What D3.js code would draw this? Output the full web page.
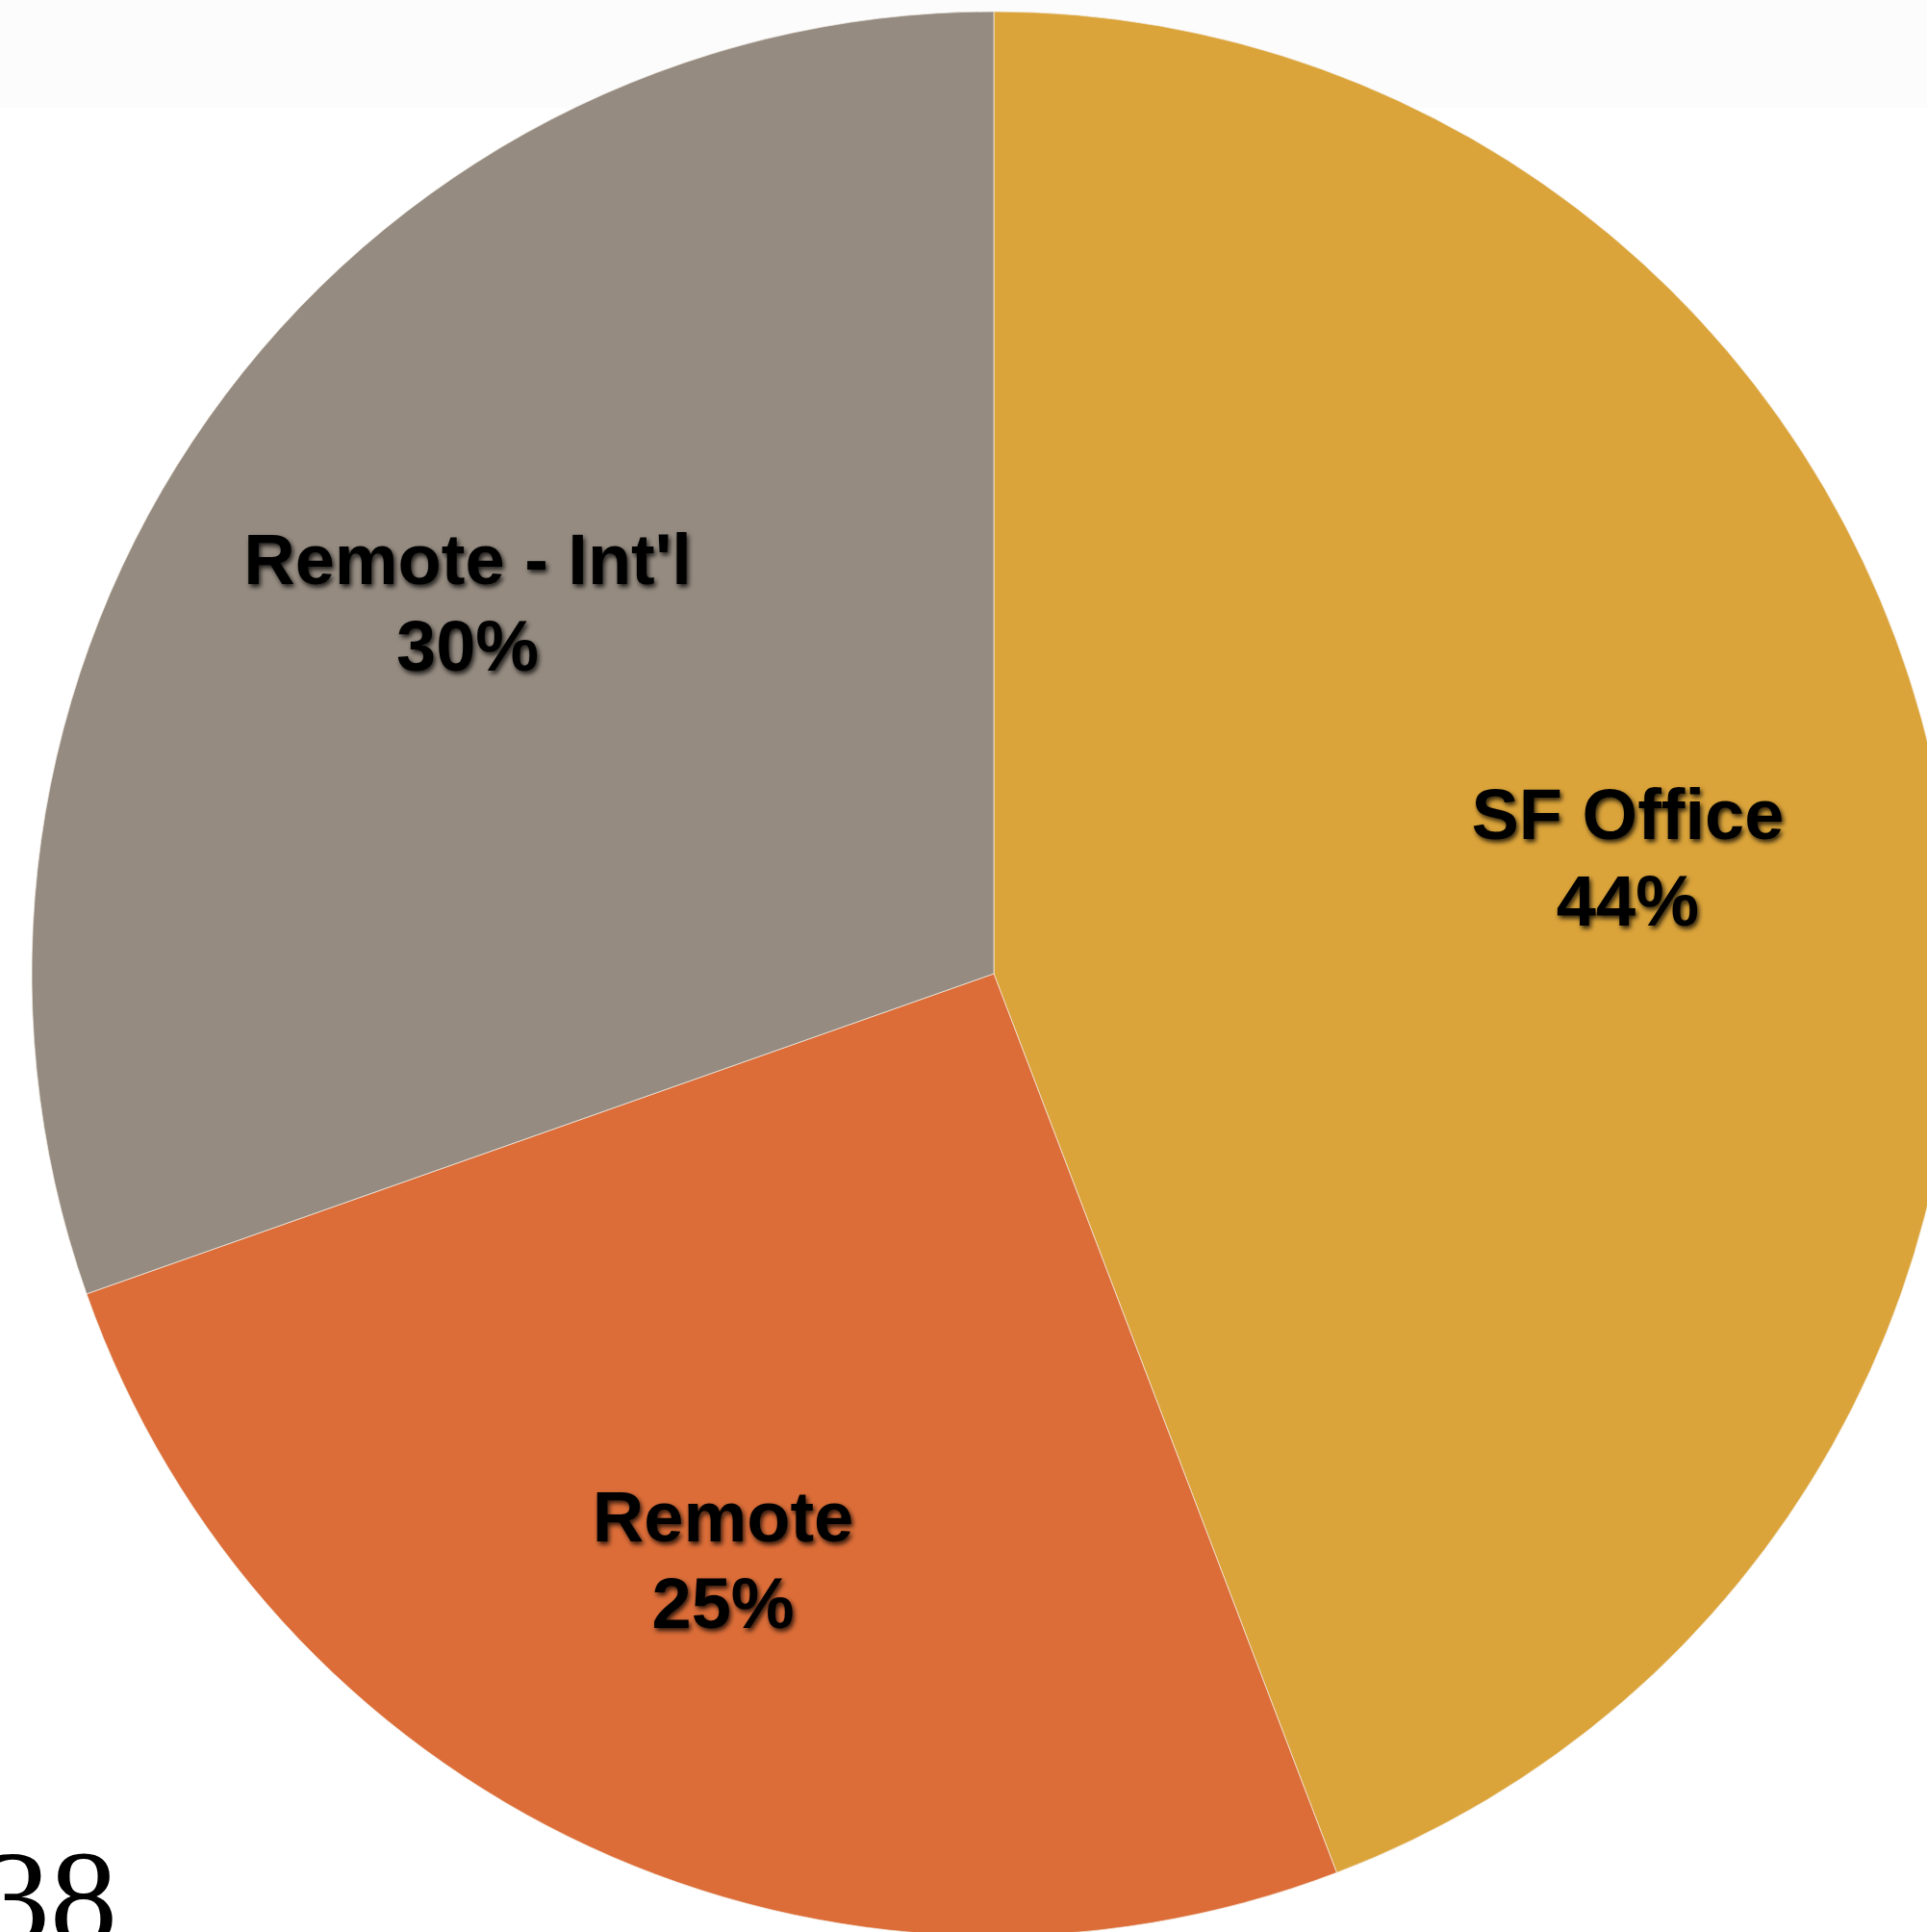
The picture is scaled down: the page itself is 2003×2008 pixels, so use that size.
<!DOCTYPE html>
<html>
<head>
<meta charset="utf-8">
<script src="https://cdn.jsdelivr.net/npm/d3@7"></script>
<style>
  html, body { margin: 0; padding: 0; background: #ffffff; overflow: hidden; }
  .slice-label { font-family: "Liberation Sans", Arial, Helvetica, sans-serif; font-weight: bold; font-size: 74px; fill: #000; }
  .page-number { font-family: "Liberation Serif", "Times New Roman", serif; font-size: 140px; fill: #000; }
</style>
</head>
<body>
<div id="chart"></div>
<script>
var categories = ["SF Office", "Remote", "Remote - Int'l"];
var values = [44.2, 25.4, 30.4];
var colors = ["#dba43a", "#dc6d38", "#958b81"];
var pageNumber = "38";

var width = 2003,
  height = 2008;
var radius = 1000;
var cx = 1033,
  cy = 1012;

var data = categories.map(function (c, i) {
  return { name: c, value: values[i], color: colors[i] };
});
var total = d3.sum(values);

var svg = d3.select("#chart").append("svg").attr("width", width).attr("height", height);

// faint paper texture band along the top
svg.append("rect").attr("x", 0).attr("y", 0).attr("width", width).attr("height", 112).attr("fill", "#fcfcfd");

var defs = svg.append("defs");
var shadow = defs.append("filter").attr("id", "shadow").attr("x", "-10%").attr("y", "-20%").attr("width", "120%").attr("height", "150%");
shadow
  .append("feDropShadow")
  .attr("dx", 2)
  .attr("dy", 3)
  .attr("stdDeviation", 2.5)
  .attr("flood-color", "#000")
  .attr("flood-opacity", 0.8);

var pie = d3
  .pie()
  .sort(null)
  .value(function (d) {
    return d.value;
  });
var arc = d3.arc().innerRadius(0).outerRadius(radius);
var labelArc = d3
  .arc()
  .innerRadius(radius * 0.67)
  .outerRadius(radius * 0.67);

var graph = svg.append("g").attr("transform", "translate(" + cx + "," + cy + ")");
var arcs = pie(data);

graph
  .selectAll("path")
  .data(arcs)
  .enter()
  .append("path")
  .attr("d", arc)
  .attr("fill", function (d) {
    return d.data.color;
  })
  .attr("stroke", "#f4eee6")
  .attr("stroke-width", 1)
  .attr("stroke-opacity", 0.7);

var labels = graph
  .selectAll("text.slice-label")
  .data(arcs)
  .enter()
  .append("text")
  .attr("class", "slice-label")
  .attr("text-anchor", "middle")
  .attr("filter", "url(#shadow)")
  .attr("transform", function (d) {
    var c = labelArc.centroid(d);
    return "translate(" + c[0] + "," + c[1] + ")";
  });
labels
  .append("tspan")
  .attr("x", 0)
  .attr("y", -18.5)
  .text(function (d) {
    return d.data.name;
  });
labels
  .append("tspan")
  .attr("x", 0)
  .attr("y", 71.5)
  .text(function (d) {
    return Math.round((d.data.value / total) * 100) + "%";
  });

// page number, cut off by the page edge as in the scan
svg.append("text").attr("class", "page-number").attr("x", -18).attr("y", 2020).text(pageNumber);
</script>
</body>
</html>
